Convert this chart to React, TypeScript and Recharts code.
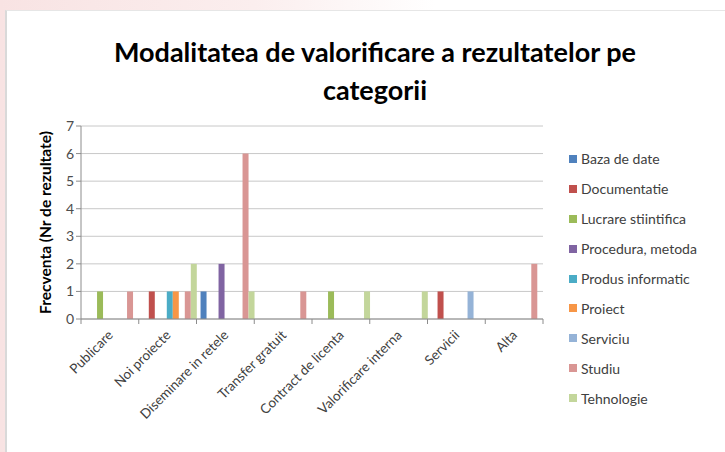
import { Bar, BarChart, CartesianGrid, XAxis, YAxis } from 'recharts';

// Categories on the x axis and one value list per series (index-aligned with categories)
const categories = [
  'Publicare',
  'Noi proiecte',
  'Diseminare in retele',
  'Transfer gratuit',
  'Contract de licenta',
  'Valorificare interna',
  'Servicii',
  'Alta',
];

const bazaDeDate = [0, 0, 1, 0, 0, 0, 0, 0];
const documentatie = [0, 1, 0, 0, 0, 0, 1, 0];
const lucrareStiintifica = [1, 0, 0, 0, 1, 0, 0, 0];
const proceduraMetoda = [0, 0, 2, 0, 0, 0, 0, 0];
const produsInformatic = [0, 1, 0, 0, 0, 0, 0, 0];
const proiect = [0, 1, 0, 0, 0, 0, 0, 0];
const serviciu = [0, 0, 0, 0, 0, 0, 1, 0];
const studiu = [1, 1, 6, 1, 0, 0, 0, 2];
const tehnologie = [0, 2, 1, 0, 1, 1, 0, 0];

const yTicks = [0, 1, 2, 3, 4, 5, 6, 7];

const SERIES = [
  { key: 'Baza de date', values: bazaDeDate, color: '#4F81BD' },
  { key: 'Documentatie', values: documentatie, color: '#C0504D' },
  { key: 'Lucrare stiintifica', values: lucrareStiintifica, color: '#9BBB59' },
  { key: 'Procedura, metoda', values: proceduraMetoda, color: '#8064A2' },
  { key: 'Produs informatic', values: produsInformatic, color: '#4BACC6' },
  { key: 'Proiect', values: proiect, color: '#F79646' },
  { key: 'Serviciu', values: serviciu, color: '#95B3D7' },
  { key: 'Studiu', values: studiu, color: '#D99694' },
  { key: 'Tehnologie', values: tehnologie, color: '#C3D69B' },
];

const data = categories.map((name, i) => {
  const row: Record<string, string | number> = { name };
  SERIES.forEach((s) => {
    row[s.key] = s.values[i];
  });
  return row;
});

const FONT = 'Lato, "Open Sans", sans-serif';
const W = 725;
const H = 452;
const MARGIN = { top: 126, right: 182, bottom: 0, left: 33 };
const Y_AXIS_W = 48;
const X_AXIS_H = 133;
const PLOT_W = W - MARGIN.left - MARGIN.right - Y_AXIS_W;
const BAND = PLOT_W / categories.length;

// Excel-style category axis: tick marks sit between categories, labels rotated 45deg
function CategoryTick(props: any) {
  const { x, y, payload, index } = props;
  const half = BAND / 2;
  return (
    <g>
      <line x1={x - half} y1={y - 8} x2={x - half} y2={y - 3} stroke="#8c8c8c" />
      {index === categories.length - 1 && (
        <line x1={x + half} y1={y - 8} x2={x + half} y2={y - 3} stroke="#8c8c8c" />
      )}
      <text
        x={x + 4}
        y={y + 9}
        textAnchor="end"
        fontSize={13.5}
        fill="#404040"
        fontFamily={FONT}
        transform={`rotate(-45, ${x + 4}, ${y + 9})`}
      >
        {payload.value}
      </text>
    </g>
  );
}

export default function App() {
  return (
    <div
      style={{
        position: 'absolute',
        left: 0,
        top: 0,
        width: W,
        height: H,
        background: 'linear-gradient(90deg, #f8e3e3 0%, #fbeeee 35%, #ffffff 60%)',
        overflow: 'hidden',
      }}
    >
      <div
        style={{
          position: 'absolute',
          left: 5,
          top: 10,
          width: W - 5,
          height: H - 10,
          background: '#ffffff',
          borderTop: '1px solid #e6e6e6',
          borderLeft: '2px solid #d9d9d9',
        }}
      />
      <div
        style={{
          position: 'absolute',
          left: 0,
          top: 33,
          width: 750,
          textAlign: 'center',
          fontFamily: FONT,
          fontWeight: 700,
          fontSize: 27,
          lineHeight: '38px',
          color: '#000000',
        }}
      >
        Modalitatea de valorificare a rezultatelor pe
        <br />
        categorii
      </div>
      <div style={{ position: 'absolute', left: 0, top: 0 }}>
        <BarChart
          width={W}
          height={H}
          data={data}
          margin={MARGIN}
          barCategoryGap="7%"
          barGap={0}
        >
          <CartesianGrid vertical={false} stroke="#c8c8c8" />
          <XAxis
            dataKey="name"
            interval={0}
            tickLine={false}
            axisLine={{ stroke: '#8c8c8c' }}
            tick={<CategoryTick />}
            height={X_AXIS_H}
          />
          <YAxis
            width={Y_AXIS_W}
            domain={[0, 7]}
            ticks={yTicks}
            allowDecimals={false}
            axisLine={{ stroke: '#8c8c8c' }}
            tickLine={{ stroke: '#8c8c8c' }}
            tickSize={5}
            tick={{ fontSize: 14, fill: '#4d4d4d', fontFamily: FONT }}
            label={{
              value: 'Frecventa (Nr de rezultate)',
              angle: -90,
              position: 'insideLeft',
              offset: 0,
              dx: 12,
              style: { fontSize: 15.5, fontWeight: 700, fill: '#000', fontFamily: FONT, textAnchor: 'middle' },
            }}
          />
          {SERIES.map((s) => (
            <Bar key={s.key} dataKey={s.key} fill={s.color} isAnimationActive={false} />
          ))}
        </BarChart>
      </div>
      <div
        style={{
          position: 'absolute',
          left: 569,
          top: 144,
          fontFamily: FONT,
          fontSize: 14,
          color: '#404040',
        }}
      >
        {SERIES.map((s) => (
          <div key={s.key} style={{ display: 'flex', alignItems: 'center', height: 29.9 }}>
            <span
              style={{ width: 8, height: 8, background: s.color, marginRight: 4, display: 'inline-block' }}
            />
            {s.key}
          </div>
        ))}
      </div>
    </div>
  );
}
